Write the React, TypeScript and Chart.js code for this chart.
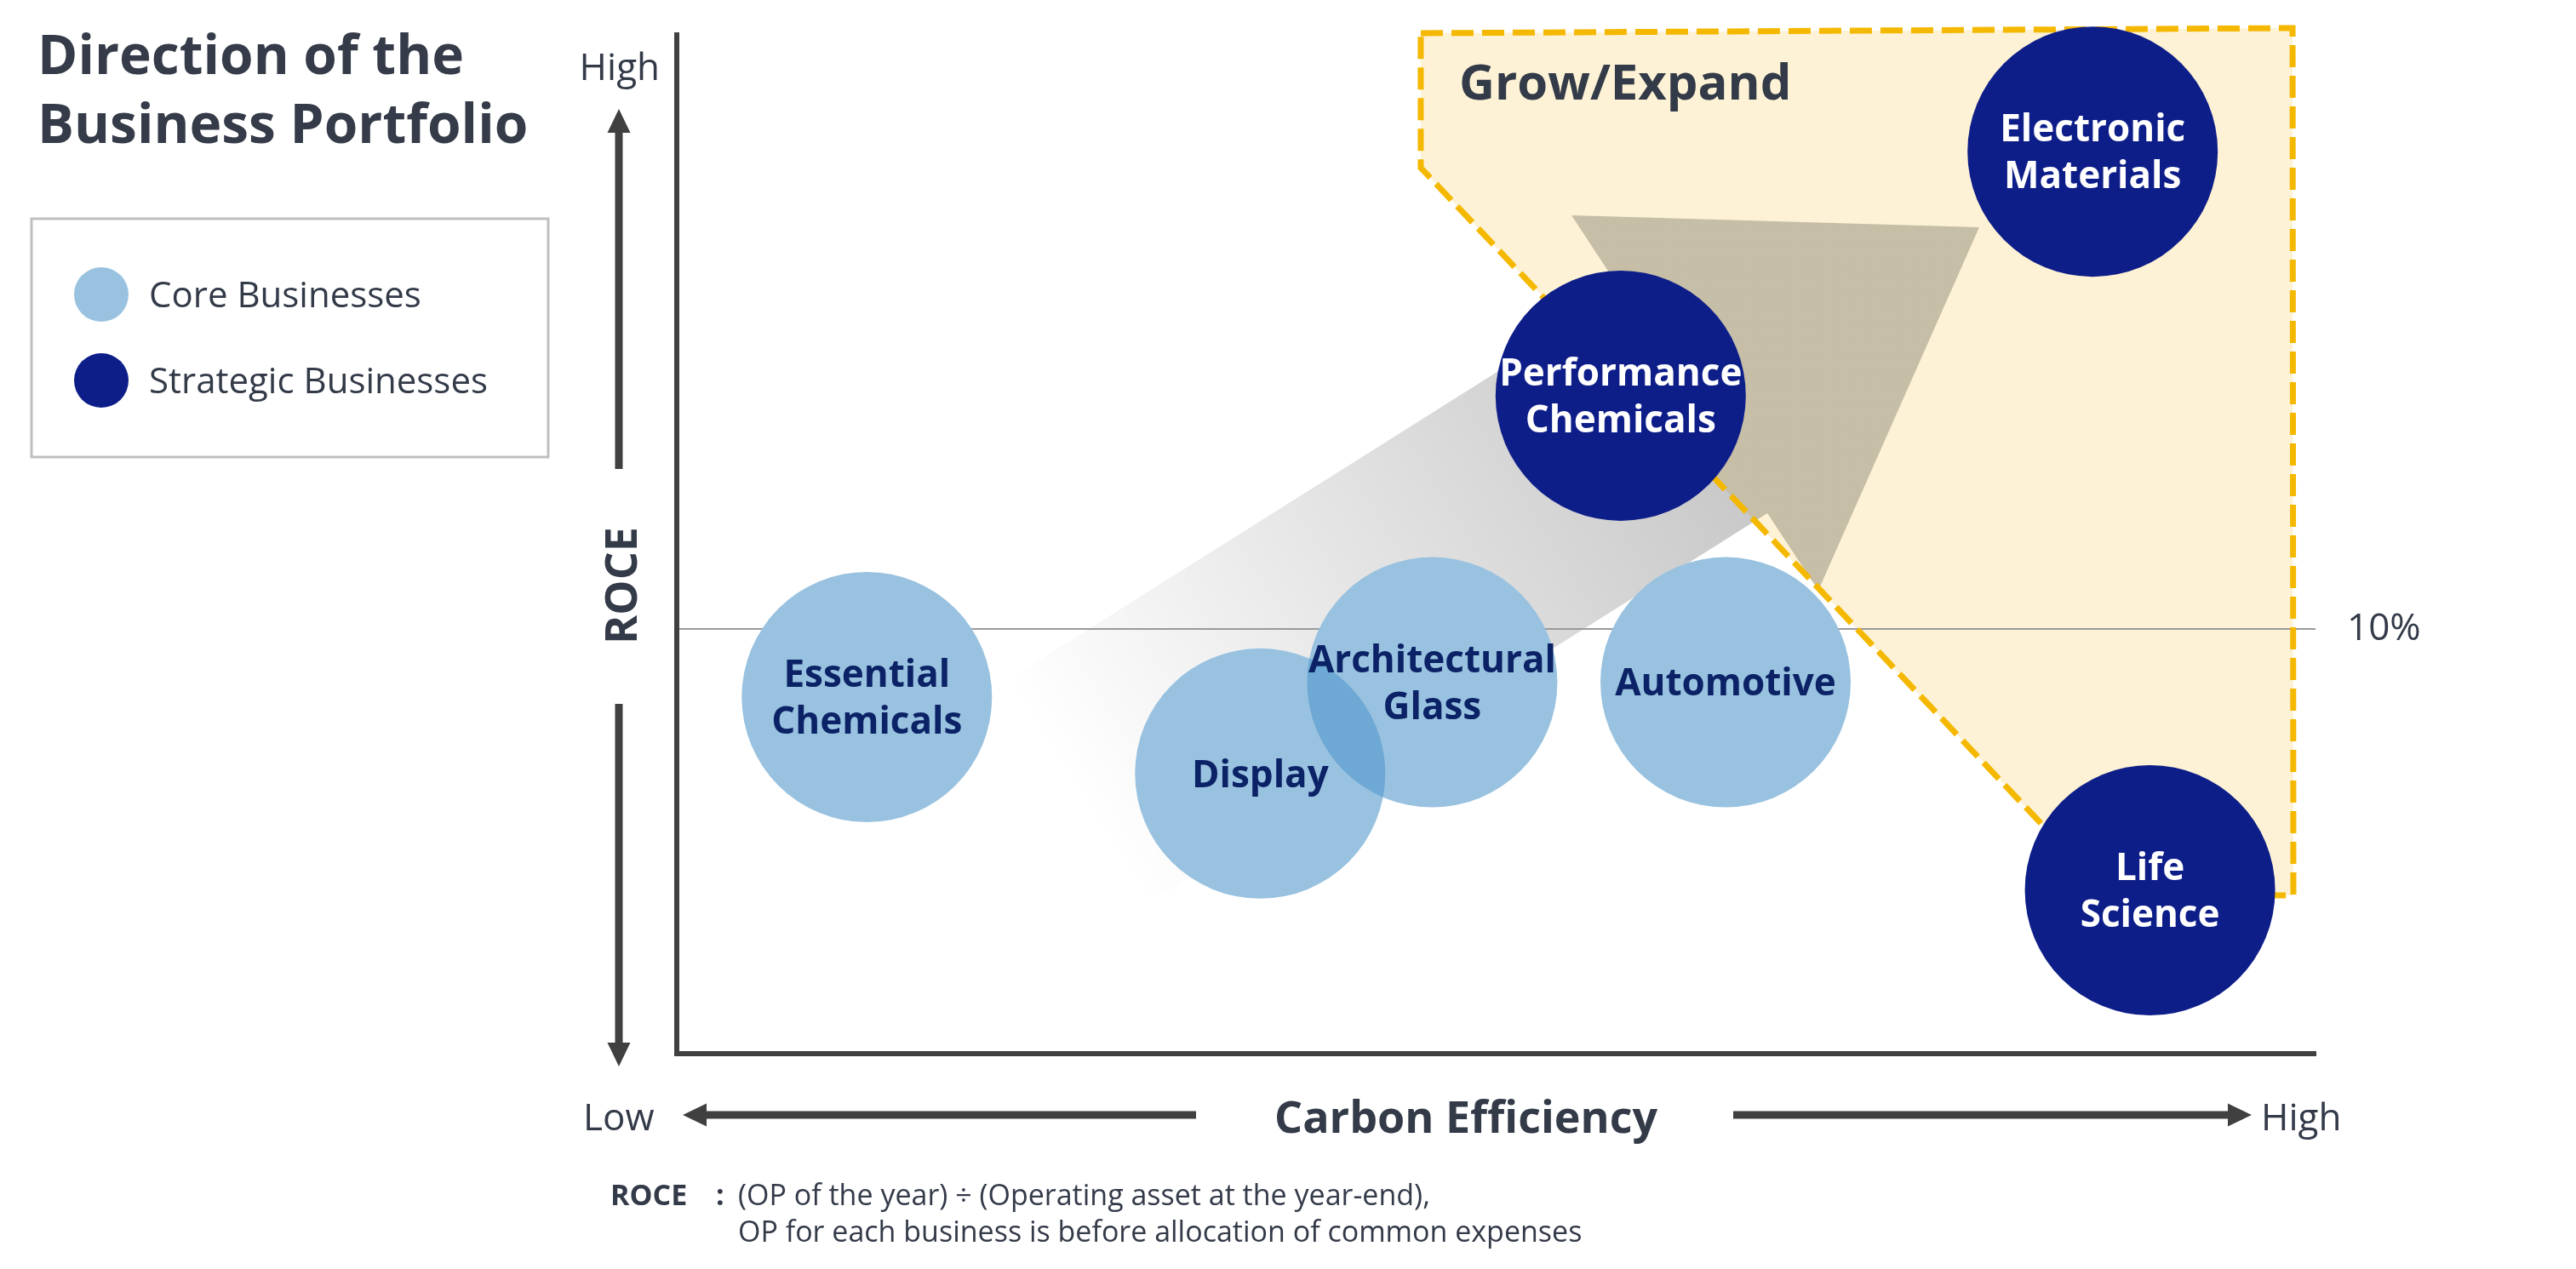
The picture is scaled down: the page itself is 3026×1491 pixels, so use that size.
import React, { useEffect, useRef } from 'react';
import { Chart, registerables } from 'chart.js';

Chart.register(...registerables);

// ---------- data ----------
const coreLabel = 'Core Businesses';
const coreNames = ['Essential\nChemicals', 'Architectural\nGlass', 'Display', 'Automotive'];
const coreCarbon = [11.6, 46.1, 35.6, 64.0];
const coreRoce = [8.4, 8.75, 6.6, 8.75];

const strategicLabel = 'Strategic Businesses';
const strategicNames = ['Performance\nChemicals', 'Electronic\nMaterials', 'Life\nScience'];
const strategicCarbon = [57.6, 86.4, 89.9];
const strategicRoce = [15.5, 21.25, 3.85];

const carbonMin = 0;
const carbonMax = 100;
const roceMin = 0;
const roceMax = 24;
const roceTicks = [10];
const roceTickLabels = ['10%'];

// Grow/Expand zone outline (carbon, roce)
const zoneX = [45.4, 98.6, 98.65, 87.4, 45.4];
const zoneY = [24.04, 24.16, 3.73, 3.73, 20.87];

// Direction arrow outline (carbon, roce)
const arrowX = [19.95, 57.71, 54.6, 79.48, 69.66, 66.55, 28.99];
const arrowY = [8.74, 17.92, 19.75, 19.47, 10.91, 12.73, 3.59];

// ---------- styles ----------
const W = 3026;
const H = 1491;
const FONT = "'Open Sans', 'Noto Sans', sans-serif";
const TEXT = '#333a48';
const AXIS = '#404040';
const CORE = '#99c2e0';
const CORE_OVERLAP = '#6ea8d4';
const STRAT = '#0e1e89';
const CORE_TEXT = '#0b2266';
const CAP = 0.357;

function txt(ctx: CanvasRenderingContext2D, s: string, x: number, capCenterY: number, size: number, weight: string, color: string, align: CanvasTextAlign = 'left') {
  ctx.font = `${weight} ${size}px ${FONT}`;
  ctx.fillStyle = color;
  ctx.textAlign = align;
  ctx.textBaseline = 'alphabetic';
  ctx.fillText(s, x, capCenterY + CAP * size);
}

function arrow(ctx: CanvasRenderingContext2D, x1: number, y1: number, x2: number, y2: number) {
  const shaft = 9, headW = 27, headL = 28;
  const ang = Math.atan2(y2 - y1, x2 - x1);
  const len = Math.hypot(x2 - x1, y2 - y1);
  ctx.save();
  ctx.translate(x1, y1);
  ctx.rotate(ang);
  ctx.beginPath();
  ctx.moveTo(0, -shaft / 2);
  ctx.lineTo(len - headL, -shaft / 2);
  ctx.lineTo(len - headL, -headW / 2);
  ctx.lineTo(len, 0);
  ctx.lineTo(len - headL, headW / 2);
  ctx.lineTo(len - headL, shaft / 2);
  ctx.lineTo(0, shaft / 2);
  ctx.closePath();
  ctx.fillStyle = AXIS;
  ctx.fill();
  ctx.restore();
}

function polyPath(chart: any, xs: number[], ys: number[]) {
  const { ctx, scales } = chart;
  ctx.beginPath();
  xs.forEach((v, i) => {
    const px = scales.x.getPixelForValue(v);
    const py = scales.y.getPixelForValue(ys[i]);
    if (i === 0) ctx.moveTo(px, py);
    else ctx.lineTo(px, py);
  });
  ctx.closePath();
}

const noPad = (s: any) => {
  s.paddingTop = 0;
  s.paddingBottom = 0;
  s.paddingLeft = 0;
  s.paddingRight = 0;
};

const overlay = {
  id: 'overlay',
  beforeDraw(chart: any) {
    const { ctx, scales } = chart;
    ctx.save();
    ctx.fillStyle = '#ffffff';
    ctx.fillRect(0, 0, chart.width, chart.height);
    // zone fill
    polyPath(chart, zoneX, zoneY);
    ctx.fillStyle = '#fdf2d5';
    ctx.fill();
    // direction arrow (multiplied over)
    const tx = scales.x.getPixelForValue((arrowX[0] + arrowX[6]) / 2);
    const ty = scales.y.getPixelForValue((arrowY[0] + arrowY[6]) / 2);
    const hx = scales.x.getPixelForValue((arrowX[2] + arrowX[4]) / 2);
    const hy = scales.y.getPixelForValue((arrowY[2] + arrowY[4]) / 2);
    const g = ctx.createLinearGradient(tx, ty, hx, hy);
    g.addColorStop(0, '#ffffff');
    g.addColorStop(1, '#c8c8c8');
    ctx.globalCompositeOperation = 'multiply';
    polyPath(chart, arrowX, arrowY);
    ctx.fillStyle = g;
    ctx.fill();
    ctx.restore();
  },
  beforeDatasetsDraw(chart: any) {
    const { ctx } = chart;
    ctx.save();
    polyPath(chart, zoneX, zoneY);
    ctx.setLineDash([26, 10]);
    ctx.lineWidth = 7;
    ctx.strokeStyle = '#f5b800';
    ctx.lineJoin = 'miter';
    ctx.stroke();
    ctx.restore();
  },
  afterDatasetsDraw(chart: any) {
    const { ctx } = chart;
    ctx.save();
    // darker shading where core bubbles overlap
    const core = chart.getDatasetMeta(0).data;
    for (let a = 0; a < core.length; a++) {
      for (let b = a + 1; b < core.length; b++) {
        const A = core[a], Bp = core[b];
        const ra = A.options.radius, rb = Bp.options.radius;
        if (Math.hypot(A.x - Bp.x, A.y - Bp.y) < ra + rb) {
          ctx.save();
          ctx.beginPath();
          ctx.arc(A.x, A.y, ra, 0, Math.PI * 2);
          ctx.clip();
          ctx.beginPath();
          ctx.arc(Bp.x, Bp.y, rb, 0, Math.PI * 2);
          ctx.fillStyle = CORE_OVERLAP;
          ctx.fill();
          ctx.restore();
        }
      }
    }
    const sets = [
      { names: coreNames, color: CORE_TEXT },
      { names: strategicNames, color: '#ffffff' },
    ];
    sets.forEach((s, di) => {
      const meta = chart.getDatasetMeta(di);
      meta.data.forEach((el: any, i: number) => {
        const lines = s.names[i].split('\n');
        const n = lines.length;
        lines.forEach((ln, k) => {
          const cy = el.y + (k - (n - 1) / 2) * 55;
          txt(ctx, ln, el.x, cy, 44, 'bold', s.color, 'center');
        });
      });
    });
    ctx.restore();
  },
  afterDraw(chart: any) {
    const { ctx, chartArea } = chart;
    const L = chartArea.left;
    const B = chartArea.bottom;
    ctx.save();
    // title
    txt(ctx, 'Direction of the', 44, 87 - CAP * 64, 64, 'bold', '#353b48');
    txt(ctx, 'Business Portfolio', 44, 168 - CAP * 64, 64, 'bold', '#353b48');
    // legend
    ctx.strokeStyle = '#bfbfbf';
    ctx.lineWidth = 3;
    ctx.strokeRect(37, 257, 607, 280);
    const leg = [
      { label: chart.data.datasets[0].label, color: CORE, y: 346 },
      { label: chart.data.datasets[1].label, color: STRAT, y: 447 },
    ];
    leg.forEach((l) => {
      ctx.beginPath();
      ctx.arc(119, l.y, 32, 0, Math.PI * 2);
      ctx.fillStyle = l.color;
      ctx.fill();
      txt(ctx, l.label, 175, l.y, 42, 'normal', TEXT);
    });
    // y axis annotation
    txt(ctx, 'High', L - 20, 78, 44, 'normal', TEXT, 'right');
    arrow(ctx, L - 68, 551, L - 68, 128);
    ctx.save();
    ctx.translate(L - 66, 688);
    ctx.rotate(-Math.PI / 2);
    txt(ctx, 'ROCE', 0, 0, 52, 'bold', TEXT, 'center');
    ctx.restore();
    arrow(ctx, L - 68, 827, L - 68, 1253);
    // x axis annotation
    const ry = B + 74;
    txt(ctx, 'Low', 685, ry, 44, 'normal', TEXT);
    arrow(ctx, 1405, ry - 2, 802, ry - 2);
    txt(ctx, 'Carbon Efficiency', 1722, ry, 52, 'bold', TEXT, 'center');
    arrow(ctx, 2036, ry - 2, 2645, ry - 2);
    txt(ctx, 'High', 2656, ry, 44, 'normal', TEXT);
    // zone title
    txt(ctx, 'Grow/Expand', 1714, 117 - CAP * 58, 58, 'bold', TEXT);
    // footnote
    txt(ctx, 'ROCE', 717, 1404, 34, 'bold', TEXT);
    txt(ctx, ':', 841, 1404, 34, 'bold', TEXT);
    txt(ctx, '(OP of the year) ÷ (Operating asset at the year-end),', 867, 1404, 34, 'normal', TEXT);
    txt(ctx, 'OP for each business is before allocation of common expenses', 867, 1447, 34, 'normal', TEXT);
    ctx.restore();
  },
};

export default function App() {
  const ref = useRef<HTMLCanvasElement>(null);
  useEffect(() => {
    const canvas = ref.current!;
    Chart.defaults.font.family = FONT;
    const radius = (c: any) => (c.chart.chartArea ? c.chart.chartArea.width * 0.0764 : 147);
    const chart = new Chart(canvas, {
      type: 'bubble',
      data: {
        datasets: [
          {
            label: coreLabel,
            data: coreCarbon.map((x, i) => ({ x, y: coreRoce[i] })),
            backgroundColor: CORE,
            borderWidth: 0,
            radius,
            hoverRadius: 0,
            clip: false,
          } as any,
          {
            label: strategicLabel,
            data: strategicCarbon.map((x, i) => ({ x, y: strategicRoce[i] })),
            backgroundColor: STRAT,
            borderWidth: 0,
            radius,
            hoverRadius: 0,
            clip: false,
          } as any,
        ],
      },
      options: {
        responsive: false,
        devicePixelRatio: 1,
        animation: false,
        events: [],
        layout: { autoPadding: false, padding: { top: 41, left: 0, right: 0, bottom: 0 } },
        plugins: { legend: { display: false }, tooltip: { enabled: false }, title: { display: false } },
        scales: {
          x: {
            type: 'linear',
            min: carbonMin,
            max: carbonMax,
            position: 'bottom',
            grid: { display: false },
            ticks: { display: false },
            border: { display: true, color: AXIS, width: 6 },
            afterFit: (s: any) => { s.height = H - 1238; noPad(s); },
          },
          y: {
            type: 'linear',
            min: roceMin,
            max: roceMax,
            position: 'left',
            grid: { color: '#9a9a9a', lineWidth: 2, drawTicks: false, tickLength: 0 },
            ticks: { display: false },
            afterBuildTicks: (s: any) => { s.ticks = roceTicks.map((v) => ({ value: v })); },
            border: { display: true, color: AXIS, width: 6 },
            afterFit: (s: any) => { s.width = 795; noPad(s); },
          },
          y2: {
            type: 'linear',
            min: roceMin,
            max: roceMax,
            position: 'right',
            grid: { display: false, drawTicks: false, tickLength: 0 },
            border: { display: false },
            afterBuildTicks: (s: any) => { s.ticks = roceTicks.map((v) => ({ value: v })); },
            ticks: {
              padding: 37,
              color: TEXT,
              font: { family: FONT, size: 44 },
              callback: (_v: any, i: number) => roceTickLabels[i],
            },
            afterFit: (s: any) => { s.width = W - 2720; noPad(s); },
          },
        } as any,
      },
      plugins: [overlay],
    });
    return () => chart.destroy();
  }, []);
  return (
    <canvas
      ref={ref}
      width={W}
      height={H}
      style={{ position: 'absolute', left: 0, top: 0, width: W, height: H, display: 'block' }}
    />
  );
}
